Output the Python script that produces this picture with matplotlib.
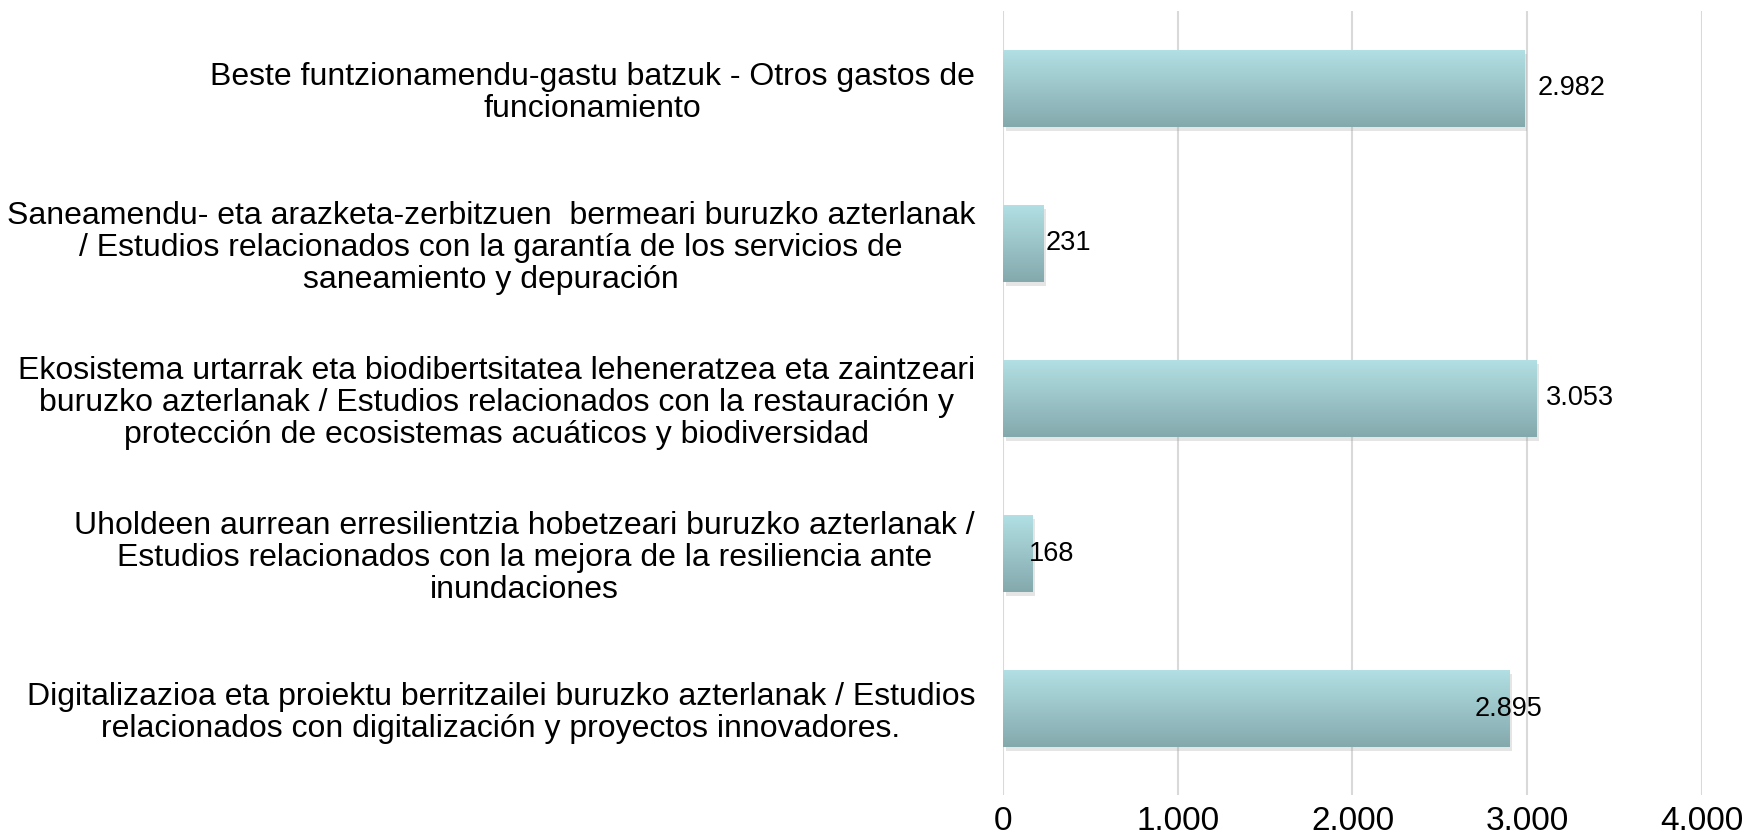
import numpy as np
import matplotlib
matplotlib.use("Agg")
import matplotlib.pyplot as plt
import matplotlib.patheffects as pe
from matplotlib.colors import LinearSegmentedColormap

plt.rcParams['font.family'] = ['Liberation Sans', 'DejaVu Sans']

# === Data (top to bottom as shown) ===
categories = [
    "Beste funtzionamendu-gastu batzuk - Otros gastos de\nfuncionamiento",
    "Saneamendu- eta arazketa-zerbitzuen  bermeari buruzko azterlanak\n/ Estudios relacionados con la garantía de los servicios de\nsaneamiento y depuración",
    "Ekosistema urtarrak eta biodibertsitatea leheneratzea eta zaintzeari\nburuzko azterlanak / Estudios relacionados con la restauración y\nprotección de ecosistemas acuáticos y biodiversidad",
    "Uholdeen aurrean erresilientzia hobetzeari buruzko azterlanak /\nEstudios relacionados con la mejora de la resiliencia ante\ninundaciones",
    "Digitalizazioa eta proiektu berritzailei buruzko azterlanak / Estudios\nrelacionados con digitalización y proyectos innovadores.",
]
values = [2982, 231, 3053, 168, 2895]
value_labels = ["2.982", "231", "3.053", "168", "2.895"]
x_ticks = [0, 1000, 2000, 3000, 4000]
x_tick_labels = ["0", "1.000", "2.000", "3.000", "4.000"]

# label offsets from bar end (points), as placed in the original
label_offsets = [34, 18, 31, 14, 0]

fig = plt.figure(figsize=(17.44, 8.39), dpi=100)
ax = fig.add_axes([0.575, 0.052, 0.401, 0.935])

y_pos = np.arange(len(values))[::-1]
bar_h = 0.5
cmap = LinearSegmentedColormap.from_list("bar", ["#84a9ad", "#b2e0e4"])
grad = np.linspace(0, 1, 256).reshape(-1, 1)

bars = ax.barh(y_pos, values, height=bar_h, color="#9cc6ca", zorder=2,
               path_effects=[pe.SimplePatchShadow(offset=(2, -3), shadow_rgbFace="#999999", alpha=0.25), pe.Normal()])
for b in bars:
    x0, y0 = b.get_x(), b.get_y()
    w, h = b.get_width(), b.get_height()
    im = ax.imshow(grad, extent=[x0, x0 + w, y0, y0 + h], origin="lower",
                   cmap=cmap, aspect="auto", zorder=3)
    im.set_clip_path(b)

for yv, v, lab, off in zip(y_pos, values, value_labels, label_offsets):
    ax.annotate(lab, xy=(v, yv), xytext=(off, 0), textcoords="offset points",
                ha="center", va="center", fontsize=19.5, color="black", zorder=4)

ax.set_xlim(0, 4000)
ax.set_ylim(-0.56, 4.5)
ax.set_xticks(x_ticks)
ax.set_xticklabels(x_tick_labels, fontsize=24)
ax.set_yticks(y_pos)
ax.set_yticklabels(categories, fontsize=23, ha="right", multialignment="center", linespacing=1.1)
ax.tick_params(axis="both", length=0)
ax.tick_params(axis="y", pad=20)
ax.tick_params(axis="x", pad=8)
ax.grid(axis="x", color="#d9d9d9", linewidth=1.5, zorder=0)
ax.set_axisbelow(True)
for s in ax.spines.values():
    s.set_visible(False)

fig.savefig("out.png", dpi=100)
